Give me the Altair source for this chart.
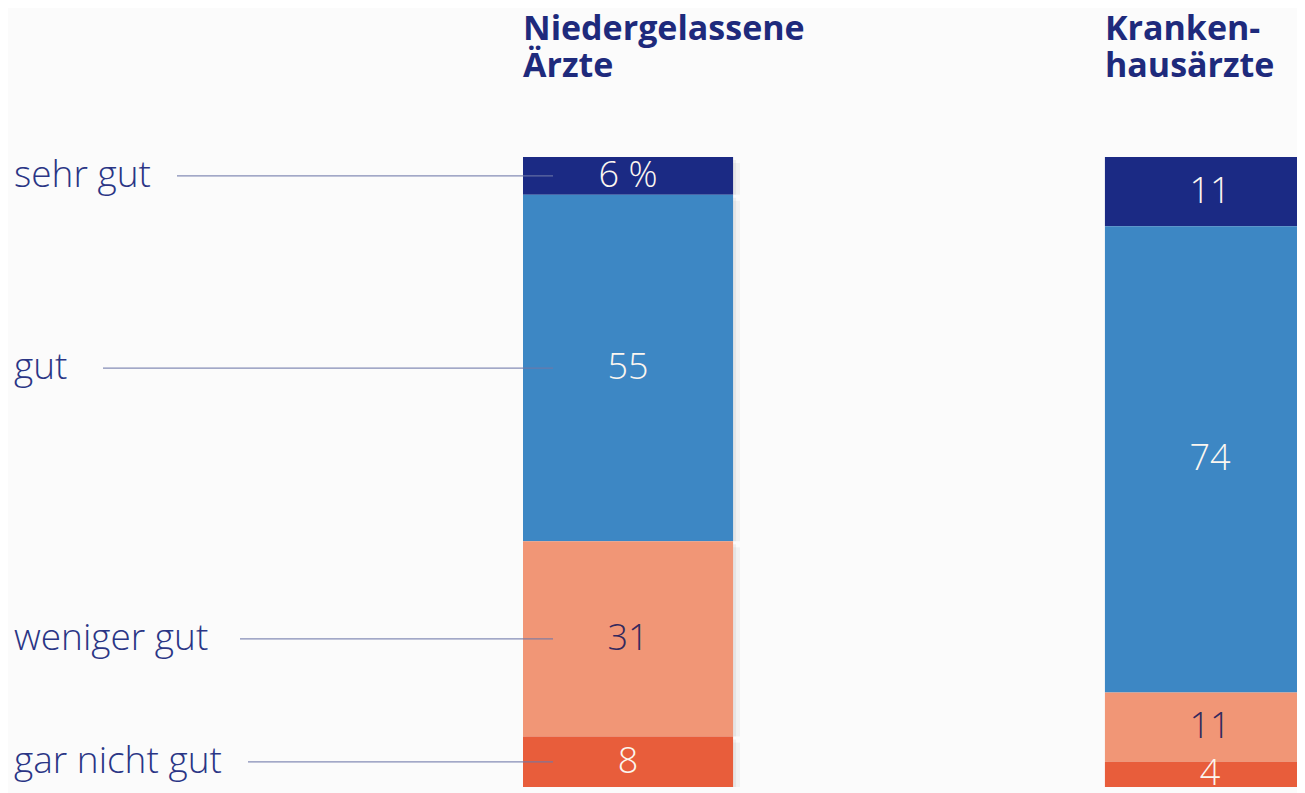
import altair as alt
import pandas as pd

# ---- data ----
groups = ["Niedergelassene Ärzte", "Krankenhausärzte"]
group_titles = ["Niedergelassene\nÄrzte", "Kranken-\nhausärzte"]
categories = ["sehr gut", "gut", "weniger gut", "gar nicht gut"]
values_niedergelassene = [6, 55, 31, 8]
values_krankenhaus = [11, 74, 11, 4]
labels_niedergelassene = ["6 %", "55", "31", "8"]
labels_krankenhaus = ["11", "74", "11", "4"]

# ---- style / layout ----
colors = ["#1b2a84", "#3d87c4", "#f19676", "#e85d3b"]
FONT = "Open Sans"
BG = "#fbfbfb"
W, H = 1289, 785
leader_start = {"sehr gut": 169, "gut": 95, "weniger gut": 232, "gar nicht gut": 240}
leader_end = 545

rows = []
for g, vals, labs in [
    (groups[0], values_niedergelassene, labels_niedergelassene),
    (groups[1], values_krankenhaus, labels_krankenhaus),
]:
    cum = 0
    for c, v, l in zip(categories, vals, labs):
        rows.append(dict(group=g, category=c, value=v, start=cum, end=cum + v,
                         mid=cum + v / 2, label=l))
        cum += v
df = pd.DataFrame(rows)
df_titles = pd.DataFrame({"group": groups, "title": group_titles})
df_cat = df[df.group == groups[0]]

x_scale = alt.Scale(domain=groups, range=[515, 1307], paddingInner=0.639, paddingOuter=0)
y_scale = alt.Scale(domain=[0, 100], range=[149, 779], nice=False, zero=False)

X = alt.X("group:N", scale=x_scale, axis=None)
base = alt.Chart(df)

shadow1 = base.mark_bar(clip=True, color="#000000", opacity=0.05, xOffset=3, yOffset=3).encode(
    x=X, y=alt.Y("start:Q", scale=y_scale, axis=None), y2="end:Q")
shadow2 = base.mark_bar(clip=True, color="#000000", opacity=0.035, xOffset=7, yOffset=6).encode(
    x=X, y=alt.Y("start:Q", scale=y_scale, axis=None), y2="end:Q")

bars = base.mark_bar(clip=True).encode(
    x=X,
    y=alt.Y("start:Q", scale=y_scale, axis=None),
    y2="end:Q",
    color=alt.Color("category:N", scale=alt.Scale(domain=categories, range=colors), legend=None),
)

values = base.mark_text(clip=True, font=FONT, fontSize=36, fontWeight=300, baseline="middle").encode(
    x=X,
    y=alt.Y("mid:Q", scale=y_scale, axis=None),
    text="label:N",
    color=alt.condition(alt.datum.category == "weniger gut", alt.value("#33295e"), alt.value("#fbf6f0")),
)

cat_labels = alt.Chart(df_cat).mark_text(
    font=FONT, fontSize=37, fontWeight=300, align="left", baseline="middle", color="#2a3585"
).encode(
    x=alt.value(6),
    y=alt.Y("mid:Q", scale=y_scale, axis=None),
    text="category:N",
)

leaders = []
for c in categories:
    leaders.append(
        alt.Chart(df_cat).transform_filter(alt.datum.category == c).mark_rule(
            color="#6f78a8", strokeWidth=1.2, opacity=0.85
        ).encode(
            x=alt.value(leader_start[c]),
            x2=alt.value(leader_end),
            y=alt.Y("mid:Q", scale=y_scale, axis=None),
        )
    )

titles = alt.Chart(df_titles).mark_text(
    font=FONT, fontSize=34, fontWeight="bold", align="left", baseline="alphabetic",
    lineBreak="\n", lineHeight=37, color="#1e2a7c"
).encode(
    x=alt.X("group:N", scale=x_scale, axis=None, bandPosition=0),
    y=alt.value(32),
    text="title:N",
)

chart = alt.layer(shadow2, shadow1, bars, *leaders, values, cat_labels, titles).properties(
    width=W, height=H, background=BG,
    autosize=alt.AutoSizeParams(type="none"), padding=0,
).configure_view(stroke=None)

chart.save("out.html", embed_options={"renderer": "svg", "actions": False})
